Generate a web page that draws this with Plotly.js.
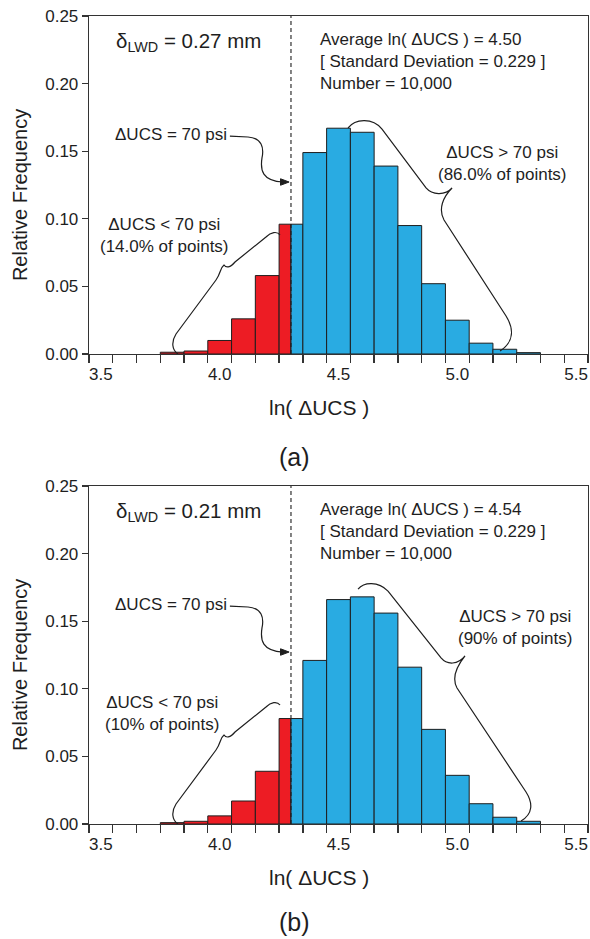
<!DOCTYPE html>
<html>
<head>
<meta charset="utf-8">
<script src="https://cdn.plot.ly/plotly-3.0.1.min.js"></script>
<style>
  html, body { margin: 0; padding: 0; background: #fff; }
  #chart { width: 590px; height: 939px; }
</style>
</head>
<body>
<div id="chart"></div>
<script>
// Histogram bins of ln(ΔUCS), 0.1 wide
const binLower = [3.75, 3.85, 3.95, 4.05, 4.15, 4.25, 4.35, 4.45, 4.55, 4.65, 4.75, 4.85, 4.95, 5.05, 5.15, 5.25];
const binUpper = [3.85, 3.95, 4.05, 4.15, 4.25, 4.35, 4.45, 4.55, 4.65, 4.75, 4.85, 4.95, 5.05, 5.15, 5.25, 5.35];

// Relative frequency per bin, case (a) and case (b)
const freqA = [0.0013, 0.0022, 0.010, 0.026, 0.058, 0.096, 0.149, 0.167, 0.164, 0.139, 0.095, 0.052, 0.025, 0.008, 0.0035, 0.001];
const freqB = [0.001, 0.002, 0.006, 0.017, 0.039, 0.078, 0.121, 0.166, 0.168, 0.156, 0.116, 0.070, 0.036, 0.015, 0.005, 0.002];

// ln(ΔUCS) at ΔUCS = 70 psi
const threshold = 4.30;

// Panel statistics
const deflection = ['0.27', '0.21'];
const meanLn = ['4.50', '4.54'];
const stdDev = ['0.229', '0.229'];
const sampleCount = ['10,000', '10,000'];
const shareBelow = ['14.0%', '10%'];
const shareAbove = ['86.0%', '90%'];

// Axis ticks
const xTickVals = [3.5, 4.0, 4.5, 5.0, 5.5];
const xTickText = ['3.5', '4.0', '4.5', '5.0', '5.5'];
const yTickVals = [0, 0.05, 0.10, 0.15, 0.20, 0.25];
const yTickText = ['0.00', '0.05', '0.10', '0.15', '0.20', '0.25'];

const RED = '#ED1C24';
const BLUE = '#29ABE2';
const INK = '#1e1e1e';
const FONT = 'Liberation Sans, Arial, sans-serif';

// Split the bins at the threshold: the part below is red, the part above is blue
function sideOf(freq, below) {
  const x = [], w = [], y = [];
  binLower.forEach((lo, i) => {
    const hi = binUpper[i];
    const a = below ? lo : Math.max(lo, threshold);
    const b = below ? Math.min(hi, threshold) : hi;
    if (b - a > 1e-9) { x.push((a + b) / 2); w.push(b - a); y.push(freq[i]); }
  });
  return { x, w, y };
}

function barTrace(part, color, xa, ya) {
  return {
    type: 'bar', x: part.x, y: part.y, width: part.w,
    xaxis: xa, yaxis: ya,
    marker: { color: color, line: { color: INK, width: 1 } },
    hoverinfo: 'skip', showlegend: false
  };
}

const traces = [];
[[freqA, 'x', 'y'], [freqB, 'x2', 'y2']].forEach(([f, xa, ya]) => {
  traces.push(barTrace(sideOf(f, true), RED, xa, ya));
  traces.push(barTrace(sideOf(f, false), BLUE, xa, ya));
});

// Callout curves (axis units)
const arrowPath = 'M 4.043,0.1612 L 4.119,0.1605 C 4.178,0.1598 4.187,0.1524 4.178,0.1450 C 4.170,0.1361 4.178,0.1280 4.267,0.1272';
const arrowHead = 'M 4.292,0.1272 L 4.256,0.1296 L 4.256,0.1248 Z';
const braceLow = 'M 3.8246,0 C 3.7993,0.00296 3.7951,0.00888 3.8162,0.01479 L 3.9845,0.05473 C 4.0056,0.05991 4.0013,0.06361 4.0182,0.06583 C 4.0266,0.06361 4.0434,0.06361 4.0645,0.06805 L 4.1949,0.08654 C 4.2160,0.09024 4.2412,0.09098 4.2539,0.08802';
const braceHighA = 'M 4.5401,0.1672 C 4.5695,0.1738 4.6411,0.1753 4.6832,0.1664 L 4.8684,0.1228 C 4.8936,0.1176 4.9483,0.1169 4.9778,0.1228 C 4.9399,0.1161 4.9189,0.1072 4.9441,0.0991 L 5.2051,0.0281 C 5.2387,0.0185 5.2387,0.0089 5.1798,0.0022';
const braceHighB = 'M 4.5822,0.1738 C 4.6074,0.1790 4.6663,0.1797 4.7084,0.1723 L 4.9315,0.1228 C 4.9567,0.1176 5.0030,0.1176 5.0325,0.1243 C 4.9988,0.1169 4.9736,0.1087 4.9988,0.1006 L 5.2892,0.0237 C 5.3187,0.0155 5.3187,0.0074 5.2682,0.0022';

const shapes = [];
const annotations = [];
const txt = (size) => ({ family: FONT, size: size, color: INK });

[['x', 'y', braceHighA, 5.190, 0.1407, 3.766, 0.0874],
 ['x2', 'y2', braceHighB, 5.243, 0.1450, 3.757, 0.0819]].forEach(([xa, ya, braceHigh, hx, hy, lx, ly], p) => {
  shapes.push({ type: 'line', xref: xa, yref: ya, x0: threshold, x1: threshold, y0: 0, y1: 0.25,
                line: { color: INK, width: 1.1, dash: '4px,3px' }, layer: 'above' });
  shapes.push({ type: 'path', xref: xa, yref: ya, path: arrowPath, line: { color: INK, width: 1.2 } });
  shapes.push({ type: 'path', xref: xa, yref: ya, path: arrowHead, fillcolor: INK, line: { color: INK, width: 1 } });
  shapes.push({ type: 'path', xref: xa, yref: ya, path: braceLow, line: { color: INK, width: 1.2 } });
  shapes.push({ type: 'path', xref: xa, yref: ya, path: braceHigh, line: { color: INK, width: 1.2 } });

  annotations.push({ xref: xa, yref: ya, x: 3.557, y: 0.2308, xanchor: 'left', yanchor: 'middle',
    text: 'δ<sub>LWD</sub> = ' + deflection[p] + ' mm', showarrow: false, font: txt(20.5) });
  annotations.push({ xref: xa, yref: ya, x: 4.4125, y: 0.2163, xanchor: 'left', yanchor: 'middle', align: 'left',
    text: 'Average ln( ΔUCS ) = ' + meanLn[p] + '<br>[ Standard Deviation = ' + stdDev[p] + ' ]<br>Number = ' + sampleCount[p],
    showarrow: false, font: txt(17) });
  annotations.push({ xref: xa, yref: ya, x: 3.551, y: 0.162, xanchor: 'left', yanchor: 'middle',
    text: 'ΔUCS = 70 psi', showarrow: false, font: txt(17) });
  annotations.push({ xref: xa, yref: ya, x: lx, y: ly, xanchor: 'center', yanchor: 'middle', align: 'center',
    text: 'ΔUCS &lt; 70 psi<br>(' + shareBelow[p] + ' of points)', showarrow: false, font: txt(17) });
  annotations.push({ xref: xa, yref: ya, x: hx, y: hy, xanchor: 'center', yanchor: 'middle', align: 'center',
    text: 'ΔUCS &gt; 70 psi<br>(' + shareAbove[p] + ' of points)', showarrow: false, font: txt(17) });
});

// Axis titles and panel letters (paper units)
[[0.7785, 0.5149, 0.4542, '(a)'], [0.1968, -0.0668, -0.1213, '(b)']].forEach(([yt, xt, lt, letter]) => {
  annotations.push({ xref: 'paper', yref: 'paper', x: -0.138, y: yt, textangle: -90,
    xanchor: 'center', yanchor: 'middle', text: 'Relative Frequency', showarrow: false, font: txt(20) });
  annotations.push({ xref: 'paper', yref: 'paper', x: 0.461, y: xt,
    xanchor: 'center', yanchor: 'middle', text: 'ln( ΔUCS )', showarrow: false, font: txt(21) });
  annotations.push({ xref: 'paper', yref: 'paper', x: 0.4128, y: lt,
    xanchor: 'center', yanchor: 'middle', text: letter, showarrow: false, font: txt(25) });
});

function xAxis(anchor) {
  return {
    anchor: anchor, domain: [0, 1], range: [3.45, 5.55],
    showline: true, mirror: true, linecolor: '#333', linewidth: 1.3,
    showgrid: false, zeroline: false,
    tickmode: 'array', tickvals: xTickVals, ticktext: xTickText,
    ticks: '', ticklabelstandoff: 4,
    minor: { ticks: 'outside', tick0: 3.45, dtick: 0.1, ticklen: 8, tickwidth: 1.3, tickcolor: '#333', showgrid: false },
    tickfont: txt(17), fixedrange: true
  };
}
function yAxis(anchor, domain) {
  return {
    anchor: anchor, domain: domain, range: [0, 0.25],
    showline: true, mirror: true, linecolor: '#333', linewidth: 1.3,
    showgrid: false, zeroline: false,
    tickmode: 'array', tickvals: yTickVals, ticktext: yTickText,
    ticks: 'outside', ticklen: 6, tickwidth: 1.3, tickcolor: '#333',
    tickfont: txt(17), fixedrange: true
  };
}

const layout = {
  width: 590, height: 939,
  margin: { l: 89, r: 2, t: 16, b: 115 },
  paper_bgcolor: '#fff', plot_bgcolor: '#fff',
  barmode: 'overlay', showlegend: false,
  font: { family: FONT, color: INK },
  xaxis: xAxis('y'), yaxis: yAxis('x', [0.5817, 1]),
  xaxis2: xAxis('y2'), yaxis2: yAxis('x2', [0, 0.4183]),
  shapes: shapes, annotations: annotations
};

Plotly.newPlot('chart', traces, layout, { displayModeBar: false, staticPlot: true });
</script>
</body>
</html>
